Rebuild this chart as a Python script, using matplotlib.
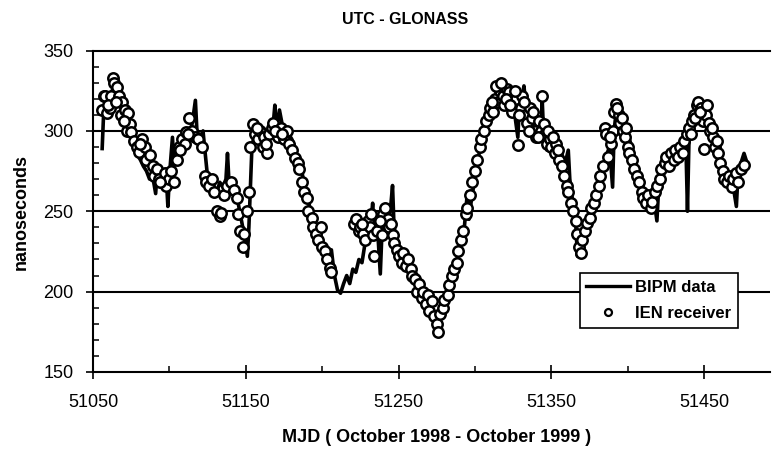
import matplotlib
matplotlib.use('Agg')
import matplotlib.pyplot as plt
from matplotlib.lines import Line2D

plt.rcParams['font.family'] = ['Liberation Sans', 'DejaVu Sans']

title = "UTC - GLONASS"
x_label = "MJD ( October 1998 - October 1999 )"
y_label = "nanoseconds"
x_ticks = [51050, 51150, 51250, 51350, 51450]
x_minor = [51100, 51200, 51300, 51400]
y_ticks = [150, 200, 250, 300, 350]
grid_levels = [200, 250, 300]

bipm_mjd = [51056, 51057, 51059, 51061, 51063, 51065, 51067, 51069, 51071, 51073,
            51075, 51077, 51079, 51081, 51083, 51085, 51087, 51089, 51091, 51092,
            51094, 51096, 51098, 51099, 51100, 51102, 51103, 51105, 51107, 51109,
            51111, 51113, 51115, 51117, 51118, 51120, 51122, 51123, 51125, 51127,
            51129, 51131, 51133, 51135, 51137, 51138, 51139, 51141, 51143, 51145,
            51147, 51149, 51151, 51152, 51154, 51156, 51158, 51160, 51162, 51164,
            51166, 51168, 51169, 51170, 51172, 51174, 51176, 51178, 51180, 51182,
            51184, 51186, 51188, 51190, 51192, 51194, 51196, 51198, 51200, 51202,
            51204, 51206, 51208, 51210, 51212, 51214, 51216, 51218, 51220, 51222,
            51224, 51226, 51228, 51230, 51232, 51233, 51234, 51236, 51238, 51239,
            51241, 51243, 51245, 51246, 51247, 51249, 51251, 51253, 51255, 51257,
            51259, 51261, 51263, 51265, 51267, 51269, 51271, 51273, 51275, 51277,
            51279, 51281, 51283, 51285, 51287, 51289, 51291, 51293, 51295, 51296,
            51298, 51300, 51302, 51304, 51306, 51308, 51310, 51312, 51314, 51316,
            51317, 51318, 51320, 51322, 51324, 51326, 51328, 51329, 51331, 51332,
            51333, 51335, 51337, 51339, 51341, 51343, 51344, 51345, 51347, 51349,
            51351, 51353, 51355, 51357, 51359, 51361, 51362, 51364, 51366, 51367,
            51368, 51370, 51372, 51374, 51376, 51378, 51380, 51382, 51384, 51386,
            51388, 51390, 51391, 51393, 51395, 51397, 51399, 51401, 51403, 51405,
            51407, 51409, 51411, 51413, 51415, 51417, 51419, 51420, 51422, 51424,
            51426, 51428, 51430, 51432, 51434, 51436, 51438, 51439, 51440, 51442,
            51444, 51446, 51448, 51450, 51452, 51454, 51456, 51458, 51460, 51462,
            51464, 51466, 51468, 51469, 51471, 51472, 51474, 51476, 51478]
bipm_ns = [289, 312, 318, 322, 326, 322, 318, 312, 305, 300,
           296, 290, 285, 282, 278, 275, 270, 272, 261, 275,
           272, 268, 270, 253, 272, 296, 278, 285, 290, 292,
           295, 298, 305, 319, 300, 296, 300, 290, 271, 268,
           264, 262, 268, 265, 270, 286, 268, 265, 262, 255,
           245, 235, 222, 240, 290, 300, 295, 298, 293, 300,
           296, 305, 316, 300, 313, 303, 300, 298, 295, 290,
           283, 278, 268, 260, 252, 245, 240, 235, 230, 225,
           222, 226, 210, 201, 199, 205, 210, 205, 214, 212,
           220, 218, 230, 240, 245, 255, 238, 242, 211, 235,
           245, 240, 255, 266, 240, 232, 225, 222, 220, 218,
           215, 210, 205, 200, 196, 190, 185, 182, 185, 188,
           190, 195, 200, 205, 212, 225, 235, 240, 262, 245,
           260, 270, 282, 294, 305, 310, 315, 318, 320, 325,
           331, 320, 315, 322, 318, 310, 296, 315, 322, 328,
           318, 312, 305, 300, 298, 295, 318, 295, 288, 292,
           292, 288, 290, 285, 280, 288, 270, 255, 240, 222,
           238, 235, 240, 238, 245, 250, 255, 265, 275, 285,
           290, 265, 300, 318, 310, 305, 300, 295, 288, 280,
           272, 268, 262, 258, 255, 258, 244, 262, 268, 275,
           280, 285, 283, 290, 288, 292, 290, 250, 295, 302,
           310, 315, 312, 318, 310, 305, 300, 292, 285, 278,
           272, 268, 270, 265, 253, 272, 280, 286, 280]

ien_mjd = [51056, 51057, 51058, 51059, 51061, 51062, 51063, 51064, 51066, 51067,
           51068, 51069, 51071, 51072, 51073, 51074, 51075, 51077, 51079, 51080,
           51082, 51084, 51085, 51087, 51089, 51090, 51092, 51093, 51095, 51097,
           51098, 51100, 51101, 51103, 51105, 51106, 51108, 51110, 51111, 51113,
           51115, 51117, 51119, 51121, 51123, 51124, 51126, 51128, 51129, 51131,
           51133, 51134, 51136, 51138, 51140, 51142, 51144, 51145, 51146, 51148,
           51149, 51151, 51152, 51153, 51155, 51156, 51158, 51159, 51161, 51162,
           51164, 51165, 51167, 51168, 51170, 51171, 51173, 51175, 51177, 51178,
           51180, 51182, 51184, 51185, 51187, 51188, 51190, 51191, 51193, 51194,
           51196, 51197, 51199, 51200, 51202, 51203, 51205, 51206, 51221, 51222,
           51224, 51225, 51227, 51228, 51230, 51231, 51233, 51234, 51236, 51237,
           51239, 51240, 51241, 51243, 51244, 51246, 51247, 51249, 51250, 51252,
           51253, 51255, 51256, 51258, 51259, 51261, 51262, 51263, 51265, 51266,
           51268, 51269, 51270, 51272, 51273, 51275, 51276, 51277, 51279, 51280,
           51282, 51283, 51285, 51286, 51288, 51289, 51291, 51292, 51294, 51295,
           51297, 51298, 51300, 51301, 51303, 51304, 51306, 51307, 51309, 51310,
           51312, 51313, 51315, 51316, 51318, 51319, 51321, 51322, 51324, 51325,
           51327, 51328, 51330, 51331, 51333, 51334, 51336, 51337, 51339, 51340,
           51342, 51343, 51344, 51346, 51347, 51349, 51350, 51352, 51353, 51355,
           51357, 51358, 51360, 51361, 51363, 51364, 51366, 51367, 51368, 51369,
           51370, 51372, 51373, 51375, 51376, 51378, 51379, 51381, 51382, 51384,
           51385, 51386, 51387, 51389, 51390, 51391, 51392, 51394, 51395, 51397,
           51398, 51400, 51401, 51403, 51404, 51406, 51407, 51409, 51410, 51412,
           51413, 51415, 51416, 51418, 51419, 51421, 51422, 51424, 51425, 51427,
           51428, 51430, 51431, 51433, 51434, 51436, 51437, 51439, 51440, 51442,
           51443, 51445, 51446, 51448, 51449, 51450, 51451, 51453, 51454, 51456,
           51457, 51459, 51460, 51462, 51463, 51465, 51466, 51468, 51469, 51471,
           51472, 51474, 51476,
           51060, 51065, 51070, 51081, 51094, 51107, 51112, 51157, 51163, 51169,
           51174, 51226, 51232, 51238, 51245, 51311, 51314, 51317, 51320, 51323,
           51326, 51329, 51332, 51335, 51338, 51341, 51345, 51348, 51351, 51354,
           51388, 51393, 51396, 51399, 51441, 51444, 51447, 51452, 51455, 51458]
ien_ns = [313, 322, 322, 311, 314, 322, 333, 330, 327, 322,
          310, 318, 313, 300, 311, 304, 299, 294, 290, 287,
          295, 290, 282, 285, 278, 272, 276, 270, 268, 274,
          266, 270, 275, 268, 282, 290, 295, 292, 299, 308,
          300, 296, 295, 290, 272, 268, 266, 270, 262, 250,
          247, 249, 260, 266, 268, 263, 258, 248, 238, 228,
          236, 250, 262, 290, 304, 298, 295, 300, 290, 296,
          286, 298, 302, 305, 300, 296, 302, 295, 300, 292,
          288, 283, 280, 276, 268, 262, 258, 250, 246, 240,
          236, 232, 240, 228, 225, 220, 215, 212, 242, 245,
          238, 240, 236, 232, 244, 240, 235, 222, 238, 244,
          235, 248, 252, 245, 240, 235, 230, 226, 222, 218,
          224, 216, 220, 214, 210, 208, 200, 205, 196, 200,
          192, 198, 188, 194, 185, 180, 175, 186, 190, 195,
          198, 204, 210, 214, 218, 225, 232, 238, 248, 252,
          260, 268, 275, 282, 290, 295, 300, 306, 310, 314,
          312, 320, 318, 325, 322, 316, 326, 324, 312, 318,
          320, 291, 314, 322, 310, 305, 314, 308, 300, 296,
          306, 300, 322, 298, 292, 295, 290, 286, 292, 282,
          278, 272, 266, 262, 255, 250, 244, 236, 228, 224,
          232, 238, 243, 246, 252, 255, 260, 266, 272, 278,
          302, 298, 284, 292, 300, 312, 317, 310, 305, 300,
          296, 290, 286, 282, 276, 272, 268, 262, 258, 255,
          260, 252, 256, 262, 266, 270, 276, 280, 284, 278,
          286, 282, 288, 284, 290, 286, 294, 298, 302, 306,
          310, 316, 318, 314, 306, 289, 310, 305, 300, 296,
          290, 286, 280, 275, 270, 268, 272, 265, 270, 274,
          268, 276, 279,
          316, 318, 306, 292, 268, 288, 298, 302, 292, 300,
          298, 242, 248, 244, 242, 318, 328, 330, 320, 316,
          325, 310, 318, 300, 312, 296, 304, 300, 296, 288,
          296, 314, 308, 302, 298, 308, 312, 316, 302, 294]

W, H = 774, 450
fig = plt.figure(figsize=(W / 100, H / 100), dpi=100)
ax = fig.add_axes([93 / W, 1 - 372 / H, (770 - 93) / W, (372 - 50.5) / H])
ax.set_xlim(51050, 51493)
ax.set_ylim(150, 350)

for lv in grid_levels:
    ax.axhline(lv, color='black', lw=1.5, zorder=1)

ax.plot(bipm_mjd, bipm_ns, color='black', lw=2.6, zorder=2)
ax.plot(ien_mjd, ien_ns, 'o', ms=7.5, mfc='white', mec='black', mew=1.8, zorder=3)

for s in ['top', 'bottom', 'left']:
    ax.spines[s].set_linewidth(1.5)
    ax.spines[s].set_color('black')
ax.spines['right'].set_visible(False)

ax.set_xticks(x_ticks)
ax.set_xticks(x_minor, minor=True)
ax.set_yticks(y_ticks)
ax.set_yticks(range(160, 350, 10), minor=True)
ax.tick_params(axis='both', which='major', direction='inout', length=10, width=1.2,
               labelsize=13, colors='black')
ax.tick_params(axis='x', which='major', pad=11)
ax.tick_params(axis='y', which='major', pad=9)
ax.tick_params(axis='both', which='minor', direction='in', length=4, width=1.1)

handles = [Line2D([], [], color='black', lw=2.4),
           Line2D([], [], marker='o', ls='none', ms=5, mfc='white', mec='black', mew=1.6)]
leg = ax.legend(handles, ['BIPM data', 'IEN receiver'], loc='upper left',
                bbox_to_anchor=(0.719, 0.308), borderaxespad=0, frameon=True,
                fancybox=False, edgecolor='black', framealpha=1,
                prop={'weight': 'bold', 'size': 12}, handlelength=2.6,
                handletextpad=0.3, labelspacing=0.7, borderpad=0.4)
leg.get_frame().set_linewidth(1.2)
leg.set_zorder(5)

fig.text(405 / W, 1 - 20 / H, title, ha='center', va='center', fontsize=11.5, fontweight='bold')
fig.text(437 / W, 1 - 438 / H, x_label, ha='center', va='center', fontsize=13, fontweight='bold')
fig.text(21 / W, 1 - 212 / H, y_label, ha='center', va='center', rotation=90,
         fontsize=13, fontweight='bold')

fig.savefig('out.png', dpi=100, facecolor='white')
